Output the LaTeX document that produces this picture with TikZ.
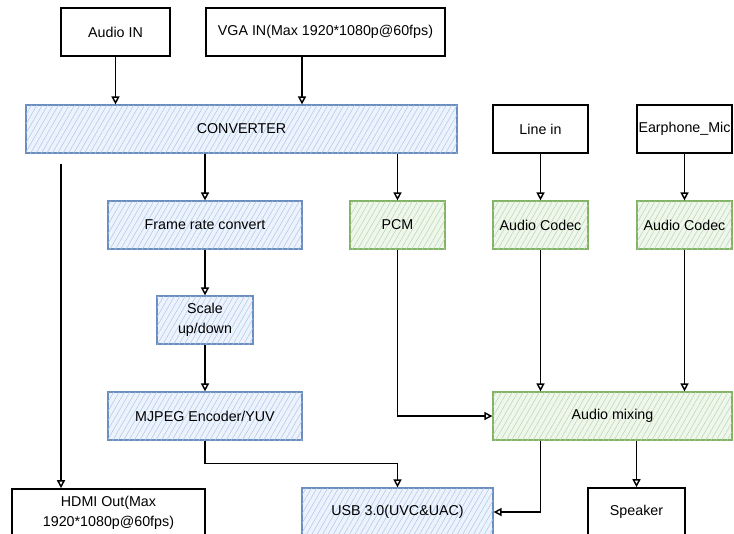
\documentclass[tikz,border=0pt]{standalone}
\usepackage{fontspec}
\setmainfont{Liberation Sans}
\usepackage{tikz}
\usetikzlibrary{arrows.meta,patterns.meta,calc}
\definecolor{blueline}{HTML}{6C8EBF}
\definecolor{bluefill}{HTML}{EDF3FC}
\definecolor{bluehatch}{HTML}{A9C3EA}
\definecolor{greenline}{HTML}{82B366}
\definecolor{greenfill}{HTML}{EFF7EC}
\definecolor{greenhatch}{HTML}{B3D4A8}
\begin{document}
\begin{tikzpicture}[x=0.75pt, y=-0.75pt, line width=1.1pt,
    every node/.style={draw, rectangle, line width=1.2pt, minimum height=36pt, inner xsep=0pt,
        align=center, font=\fontsize{10.7}{15}\selectfont},
    bluebox/.style={draw=blueline, line width=0.9pt, fill=bluefill,
        postaction={pattern={Lines[angle=60,distance=3.5pt,line width=0.35pt]}, pattern color=bluehatch}},
    greenbox/.style={draw=greenline, line width=0.9pt, fill=greenfill,
        postaction={pattern={Lines[angle=60,distance=3.5pt,line width=0.35pt]}, pattern color=greenhatch}},
    >={Triangle[open,length=6pt,width=6pt]}]
            \clip (0,0) rectangle (734,533);

            % Inputs
            \node (ain) [minimum width=81.75pt] at (115.5,32) {Audio IN};
            \node (vga) [minimum width=179.25pt] at (325.5,32) {VGA IN(Max 1920*1080p@60fps)};

            % Converter and audio inputs
            \node (conv) [bluebox, minimum width=323.25pt] at (241.5,129) {CONVERTER};
            \node (linein) [minimum width=71.25pt] at (540.5,129) {Line in};
            \node (mic) [minimum width=71.25pt] at (684.5,129) {Earphone\_Mic};

            % Level 2
            \node (frc) [bluebox, minimum width=145.5pt] at (205,225) {Frame rate convert};
            \node (pcm) [greenbox, minimum width=71.25pt] at (397.5,225) {PCM};
            \node (codec1) [greenbox, minimum width=71.25pt] at (540.5,225) {Audio Codec};
            \node (codec2) [greenbox, minimum width=71.25pt] at (684.5,225) {Audio Codec};

            % Level 3
            \node (scale) [bluebox, minimum width=72pt] at (205,320) {Scale\\up/down};
            \node (mjpeg) [bluebox, minimum width=145.5pt] at (205,416) {MJPEG Encoder/YUV};
            \node (mix) [greenbox, minimum width=179.25pt] at (612.5,416) {Audio mixing};

            % Outputs
            \node (hdmi) [minimum width=144.75pt] at (108.5,513) {HDMI Out(Max\\1920*1080p@60fps)};
            \node (usb) [bluebox, minimum width=143.25pt] at (397.5,512) {USB 3.0(UVC\&UAC)};
            \node (spk) [minimum width=72.75pt] at (636.5,512) {Speaker};

            \coordinate (hdmiin) at ($(hdmi.north)+(-47.5,0)$);
            \coordinate (vgaout) at ($(vga.south)+(-23.5,0)$);

            % Edges
            \draw[->] (ain.south) -- (ain.south |- conv.north);
            \draw[->] (vgaout) -- (vgaout |- conv.north);
            \draw[->] (linein) -- (codec1);
            \draw[->] (mic) -- (codec2);

            \draw[->] (frc.north |- conv.south) -- (frc);
            \draw[->] (pcm.north |- conv.south) -- (pcm);
            \draw[->] ($(hdmiin |- conv.south)+(0,10)$) -- (hdmiin);

            \draw[->] (frc) -- (scale);
            \draw[->] (scale) -- (mjpeg);
            \draw[->] (pcm.south) |- (mix.west);
            \draw[->] (codec1) -- (codec1 |- mix.north);
            \draw[->] (codec2) -- (codec2 |- mix.north);

            \draw[->] (mjpeg.south) -- ++(0,23) -| (usb.north);
            \draw[->] (mix.south -| codec1) |- (usb.east);
            \draw[->] (mix.south -| spk) -- (spk.north);
\end{tikzpicture}
\end{document}
